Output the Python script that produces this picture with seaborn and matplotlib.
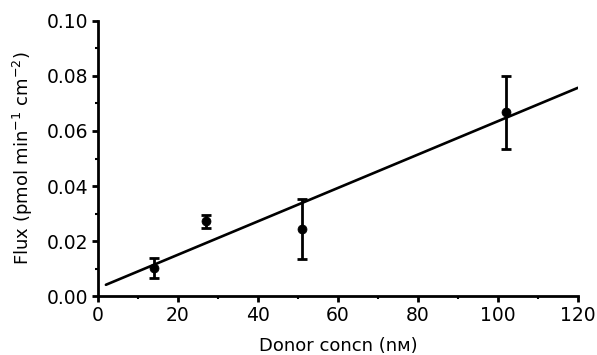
import matplotlib
matplotlib.use("Agg")
import matplotlib.pyplot as plt
import seaborn as sns
import pandas as pd
import numpy as np
from matplotlib.ticker import MultipleLocator

# measured points (donor concentration, flux, error)
donor_conc = [14, 27, 51, 102]
flux = [0.0102, 0.0272, 0.0244, 0.0668]
flux_err = [0.0036, 0.0023, 0.0110, 0.0132]

# fitted line endpoints
fit_x = [2, 120]
fit_y = [0.0041, 0.0757]

sns.set_style("ticks")
plt.rcParams['font.family'] = ['DejaVu Sans']
plt.rcParams.update({"text.color": "black", "axes.labelcolor": "black",
                     "xtick.color": "black", "ytick.color": "black",
                     "axes.edgecolor": "black"})

fig = plt.figure(figsize=(5.97, 3.55), dpi=100)
ax = fig.add_axes([0.164, 0.166, 0.804, 0.775])

pts = pd.DataFrame({"conc": donor_conc, "flux": flux, "err": flux_err})
fit = pd.DataFrame({"conc": fit_x, "flux": fit_y})

sns.lineplot(data=fit, x="conc", y="flux", ax=ax, color="black", lw=1.9)
ax.errorbar(pts["conc"], pts["flux"], yerr=pts["err"], fmt="none",
            ecolor="black", elinewidth=2, capsize=3.5, capthick=2)
sns.scatterplot(data=pts, x="conc", y="flux", ax=ax, color="black",
                s=42, edgecolor="black", zorder=5)

ax.set_xlim(0, 120)
ax.set_ylim(0, 0.10)
ax.xaxis.set_major_locator(MultipleLocator(20))
ax.xaxis.set_minor_locator(MultipleLocator(10))
ax.yaxis.set_major_locator(MultipleLocator(0.02))
ax.yaxis.set_minor_locator(MultipleLocator(0.01))
ax.yaxis.set_major_formatter(plt.FormatStrFormatter("%.2f"))

sns.despine(ax=ax)
for s in ["left", "bottom"]:
    ax.spines[s].set_linewidth(2)
ax.tick_params(which="major", length=4.5, width=2, labelsize=13.5, pad=2.5)
ax.tick_params(which="minor", length=2.5, width=1.5)

ax.set_xlabel("Donor concn (nᴍ)", fontsize=13, labelpad=9)
ax.set_ylabel("Flux (pmol min$^{-1}$ cm$^{-2}$)", fontsize=13, labelpad=8)

fig.savefig("out.png", dpi=100)
